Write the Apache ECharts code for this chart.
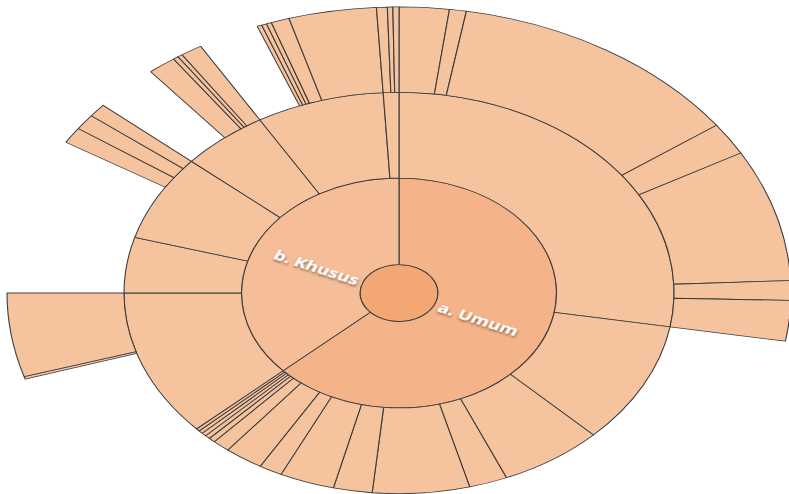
<!DOCTYPE html>
<html><head><meta charset="utf-8">
<script src="https://cdn.jsdelivr.net/npm/echarts@6/dist/echarts.min.js"></script>
<style>
html,body{margin:0;padding:0;background:#fff;overflow:hidden;width:789px;height:494px;}
#wrap{width:789px;height:494px;overflow:hidden;position:relative;}
#chart{width:789px;height:677px;transform:scaleY(0.7298);transform-origin:0 0;}
</style></head><body><div id="wrap"><div id="chart"></div></div>
<script>
// Level 1 categories
const level1Names = ['a. Umum', 'b. Khusus'];
// Level 2 values under "a. Umum" (clockwise from top)
const umumRing2Values = [99.7, 35.3, 22.0, 8.1, 20.5, 8.2, 11.6, 4.9, 8.2, 3.7, 1.4, 1.1, 1.0, 0.9, 0.8];
// Level 3 values under the first "a. Umum" sub-category
const umumRing3Values = [7.4, 2.5, 44.2, 6.6, 26.8, 4.0, 8.2];
// Level 2 values under "b. Khusus"
const khususRing2Values = [42.6, 16.1, 24.9, 18.6, 27.1, 3.3];
// Level 3: blank (unnamed) share first, then named values, per level-2 item of "b. Khusus"
const khususRing3Blank = [25.1, 0, 15.7, 9.7, 9.2, 0];
const khususRing3Values = [
  [0.5, 17.0],
  [],
  [3.3, 3.2, 2.7],
  [4.2, 0.8, 0.7, 3.2],
  [0.7, 0.75, 0.75, 2.7, 13.0],
  [1.6, 0.8, 0.9]
];

const leaf = v => ({ name: '', value: v });
const blank = v => ({ name: '', value: v, itemStyle: { color: 'rgba(0,0,0,0)', borderWidth: 0 }, label: { show: false }, emphasis: { disabled: true } });

const umumChildren = umumRing2Values.map((v, i) =>
  i === 0 ? { name: '', children: umumRing3Values.map(leaf) } : leaf(v));

const khususChildren = khususRing2Values.map((v, i) => {
  const vis = khususRing3Values[i];
  if (!vis.length) return leaf(v);
  const ch = [];
  if (khususRing3Blank[i]) ch.push(blank(khususRing3Blank[i]));
  vis.forEach(x => ch.push(leaf(x)));
  return { name: '', children: ch };
});

const data = [{
  name: '',
  itemStyle: { color: '#F2A774' },
  children: [
    { name: level1Names[0], itemStyle: { color: '#F4B388' }, children: umumChildren },
    { name: level1Names[1], itemStyle: { color: '#F5BD98' }, children: khususChildren }
  ]
}];

const chart = echarts.init(document.getElementById('chart'), null, { renderer: 'svg' });
chart.setOption({
  animation: false,
  series: [{
    type: 'sunburst',
    center: [399, 401.5],
    sort: null,
    startAngle: 90,
    nodeClick: false,
    data: data,
    itemStyle: { borderColor: '#3c3c3c', borderWidth: 1.1 },
    label: { show: false },
    levels: [
      {},
      { r0: 0, r: 39, label: { show: false } },
      { r0: 39, r: 157.5,
        label: { show: true, rotate: 'radial', align: 'left', distance: 5,
          color: '#ffffff', fontFamily: 'Open Sans', fontWeight: 'bold', fontSize: 19,
          textShadowColor: 'rgba(0,0,0,0.55)', textShadowBlur: 3, textShadowOffsetX: 1, textShadowOffsetY: 2 } },
      { r0: 157.5, r: 275, itemStyle: { color: '#F6C39F' }, label: { show: false } },
      { r0: 275, r: 392, itemStyle: { color: '#F6C39F' }, label: { show: false } }
    ]
  }]
});
</script></body></html>
